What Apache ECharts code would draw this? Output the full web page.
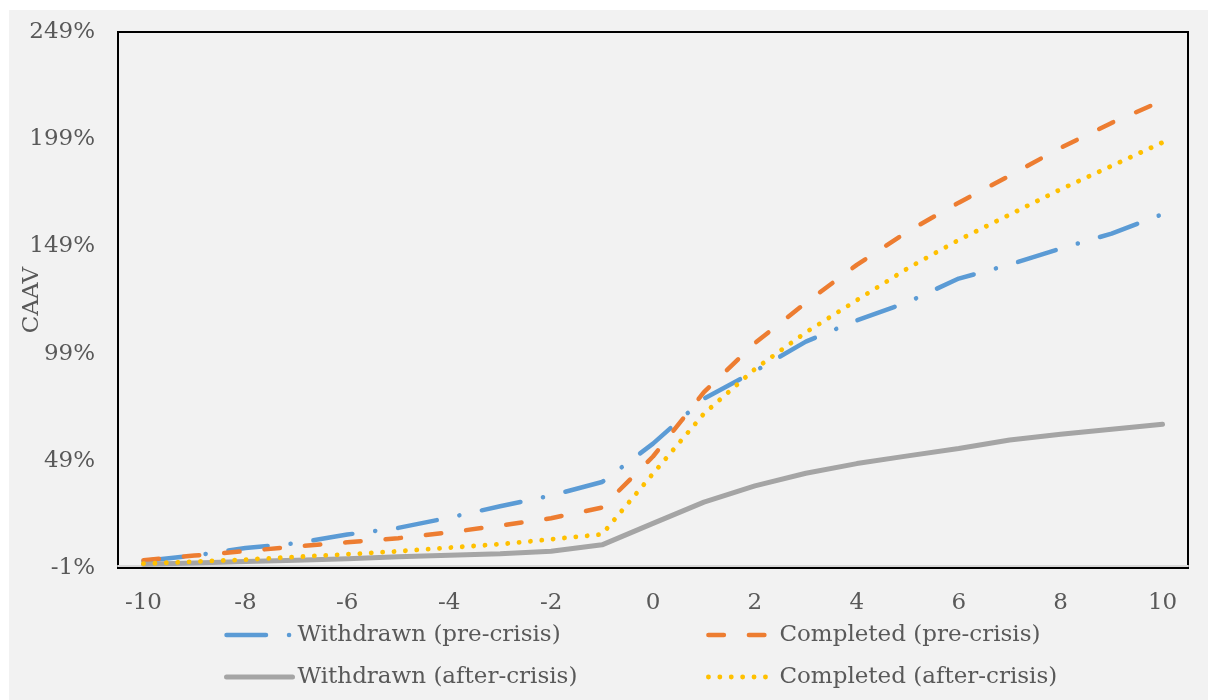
<!DOCTYPE html>
<html>
<head>
<meta charset="utf-8">
<script src="https://cdn.jsdelivr.net/npm/echarts@6/dist/echarts.min.js"></script>
<style>
  html, body { margin: 0; padding: 0; background: #ffffff; }
  #panel { position: absolute; left: 9px; top: 10px; right: 0; bottom: 0; background: #f2f2f2; }
  #chart { position: absolute; left: 0; top: 0; width: 1208px; height: 700px; }
</style>
</head>
<body>
<div id="panel"></div>
<div id="chart"></div>
<script>
// Event window (days relative to announcement)
const days = [-10, -9, -8, -7, -6, -5, -4, -3, -2, -1, 0, 1, 2, 3, 4, 5, 6, 7, 8, 9, 10];

// Cumulative abnormal volume (CAAV), in percent
const withdrawnPre   = [2.3, 4.8, 8.3, 10.6, 14.6, 17.7, 22.5, 27.8, 32.8, 39.1, 57.0, 78.0, 90.8, 104.6, 114.5, 123.0, 134.0, 140.5, 148.0, 155.0, 164.0];
const completedPre   = [2.6, 4.8, 6.9, 9.0, 11.0, 12.9, 15.6, 18.8, 22.2, 27.2, 51.0, 81.0, 103.9, 122.7, 140.4, 156.0, 169.4, 182.0, 195.0, 206.6, 217.0];
const withdrawnAfter = [0.7, 1.3, 2.0, 2.6, 3.3, 4.2, 5.0, 5.6, 6.8, 9.8, 19.8, 29.7, 37.3, 43.2, 47.7, 51.3, 54.7, 58.7, 61.4, 63.7, 66.0];
const completedAfter = [1.0, 2.0, 2.9, 4.2, 5.4, 6.8, 8.5, 10.1, 12.4, 14.7, 43.0, 71.0, 91.8, 108.9, 123.9, 138.8, 152.0, 163.8, 175.6, 186.5, 197.5];

// Axis tick labels
const xTicks = [-10, -8, -6, -4, -2, 0, 2, 4, 6, 8, 10];
const yTicks = [-1, 49, 99, 149, 199, 249];

const seriesNames = [
  'Withdrawn (pre-crisis)',
  'Completed (pre-crisis)',
  'Withdrawn (after-crisis)',
  'Completed (after-crisis)'
];

const FONT = 'DejaVu Serif';
const TEXT = '#595959';

// Stroke styles per series
const styles = {
  [seriesNames[0]]: { color: '#5b9bd5', width: 4.5, type: [39.5, 23, 0.1, 23] },
  [seriesNames[1]]: { color: '#ed7d31', width: 4.5, type: [15.5, 25] },
  [seriesNames[2]]: { color: '#a5a5a5', width: 5, type: 'solid' },
  [seriesNames[3]]: { color: '#ffc000', width: 4.8, type: [0.1, 11.3] }
};

function pairs(values) {
  return days.map((d, i) => [d, values[i]]);
}

function lineSeries(name, values) {
  const s = styles[name];
  return {
    name: name,
    type: 'line',
    data: pairs(values),
    symbol: 'none',
    showSymbol: false,
    smooth: false,
    lineStyle: { color: s.color, width: s.width, type: s.type, cap: 'round', join: 'round' },
    itemStyle: { color: s.color },
    emphasis: { disabled: true }
  };
}

// Legend entries: the line sample only, no marker
function legendItem(name) {
  const s = styles[name];
  return {
    name: name,
    itemStyle: { color: 'rgba(0,0,0,0)', borderWidth: 0, opacity: 0 },
    lineStyle: { color: s.color, width: s.width, type: s.type, cap: 'round', opacity: 1 }
  };
}

const chart = echarts.init(document.getElementById('chart'), null, { renderer: 'canvas' });

const legendCommon = {
  orient: 'vertical',
  top: 618,
  itemWidth: 66,
  itemHeight: 14,
  itemGap: 18,
  selectedMode: false,
  textStyle: { fontFamily: FONT, fontSize: 23, color: TEXT, lineHeight: 24 }
};

chart.setOption({
  animation: false,
  backgroundColor: 'transparent',
  grid: {
    left: 118, top: 32, width: 1070, height: 536,
    outerBoundsMode: 'none',
    containLabel: false,
    show: true, borderColor: '#000000', borderWidth: 2,
    backgroundColor: 'transparent'
  },
  legend: [
    Object.assign({ left: 219, data: [legendItem(seriesNames[0]), legendItem(seriesNames[2])] }, legendCommon),
    Object.assign({ left: 701, data: [legendItem(seriesNames[1]), legendItem(seriesNames[3])] }, legendCommon)
  ],
  xAxis: {
    type: 'value',
    min: -10.5,
    max: 10.5,
    axisLine: { show: true, onZero: true, lineStyle: { color: '#d9d9d9', width: 2 } },
    axisTick: { show: false },
    splitLine: { show: false },
    axisLabel: {
      customValues: xTicks,
      margin: 24,
      fontFamily: FONT, fontSize: 23, color: TEXT
    }
  },
  yAxis: {
    type: 'value',
    min: -1,
    max: 249,
    name: 'CAAV',
    nameLocation: 'middle',
    nameRotate: 90,
    nameGap: 74,
    nameMoveOverlap: false,
    nameTextStyle: { fontFamily: FONT, fontSize: 23, color: TEXT },
    axisLine: { show: false },
    axisTick: { show: false },
    splitLine: { show: false },
    axisLabel: {
      customValues: yTicks,
      margin: 23,
      formatter: '{value}%',
      fontFamily: FONT, fontSize: 23, color: TEXT
    }
  },
  series: seriesNames.map((n, i) => lineSeries(n, [withdrawnPre, completedPre, withdrawnAfter, completedAfter][i]))
});
</script>
</body>
</html>
